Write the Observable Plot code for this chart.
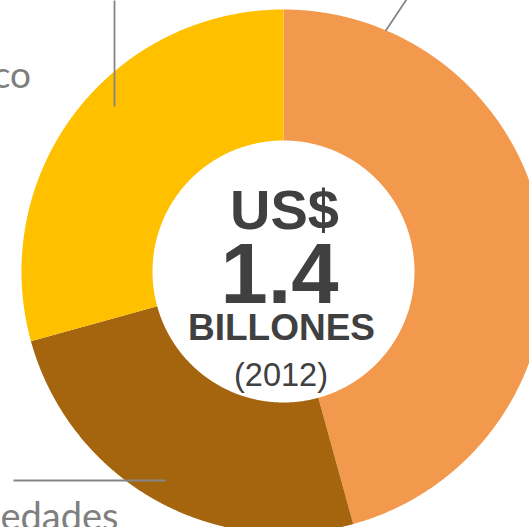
<!DOCTYPE html>
<html><head><meta charset="utf-8">
<script src="https://cdn.jsdelivr.net/npm/d3@7"></script>
<script src="https://cdn.jsdelivr.net/npm/@observablehq/plot@0.6"></script>
<style>html,body{margin:0;padding:0;background:#fff;overflow:hidden}svg{overflow:hidden}</style>
</head><body><div id="chart"></div>
<script>
// Data (US$ billones, 2012)
const categories = ["Segmento naranja", "…edades", "…co"];
const values = [0.64, 0.35, 0.41];
const colors = ["#F3994D", "#A5640E", "#FFC000"];
const centerLines = ["US$", "1.4", "BILLONES", "(2012)"];
const sideLabels = ["co", "edades"];

// geometry (pixels)
const W = 529, H = 527, CX = 283, CY = 271, R = 262;
const inner = 131 / R;
const ix = px => (px - CX) / R;
const iy = py => (CY - py) / R;

const pie = d3.pie().sort(null).value(d => d.value)(categories.map((c, i) => ({cat: c, value: values[i]})));
const pts = [];
for (const s of pie) {
  const n = Math.max(2, Math.ceil((s.endAngle - s.startAngle) / 0.005));
  for (let k = 0; k <= n; k++) {
    const a = s.startAngle + (s.endAngle - s.startAngle) * k / n;
    pts.push({cat: s.data.cat, x: Math.sin(a), y: Math.cos(a)});
  }
  for (let k = n; k >= 0; k--) {
    const a = s.startAngle + (s.endAngle - s.startAngle) * k / n;
    pts.push({cat: s.data.cat, x: inner * Math.sin(a), y: inner * Math.cos(a)});
  }
}

const bold = "'Liberation Sans', Arial, sans-serif";
const centerSpec = [
  {t: centerLines[0], x: ix(284), y: iy(228), fs: 56, fw: "bold"},
  {t: centerLines[1], x: ix(279), y: iy(302), fs: 85, fw: "bold"},
  {t: centerLines[2], x: ix(281), y: iy(339), fs: 37, fw: "bold"},
  {t: centerLines[3], x: ix(280.5), y: iy(385), fs: 32.5, fw: "normal"}
];

const leaders = [
  {x1: ix(114), y1: iy(0), x2: ix(114), y2: iy(106)},
  {x1: ix(13), y1: iy(480), x2: ix(165), y2: iy(480)},
  {x1: ix(406), y1: iy(-1), x2: ix(385), y2: iy(30.5)}
];

const labelFont = "Lato, 'Open Sans', sans-serif";
const chart = Plot.plot({
  width: W, height: H, margin: 0,
  x: {domain: [ix(0), ix(W)], axis: null},
  y: {domain: [iy(H), iy(0)], axis: null},
  color: {domain: categories, range: colors},
  style: {background: "#fff", overflow: "hidden"},
  marks: [
    Plot.line(pts, {x: "x", y: "y", z: "cat", fill: "cat", stroke: "none", curve: "linear-closed", clip: true}),
    Plot.link(leaders, {x1: "x1", y1: "y1", x2: "x2", y2: "y2", stroke: "#858585", strokeWidth: 1.8}),
    ...centerSpec.map(d => Plot.text([d], {x: "x", y: "y", text: "t", fontSize: d.fs, fontWeight: d.fw, fontFamily: bold, fill: "#404040", textAnchor: "middle", lineAnchor: "bottom"})),
    Plot.text([sideLabels[0]], {x: ix(30.5), y: iy(87.5), text: d => d, textAnchor: "end", lineAnchor: "bottom", fontSize: 37, fontWeight: 400, fontFamily: labelFont, fill: "#7F7F7F"}),
    Plot.text([sideLabels[1]], {x: ix(118), y: iy(529), text: d => d, textAnchor: "end", lineAnchor: "bottom", fontSize: 38, fontWeight: 400, fontFamily: labelFont, fill: "#7F7F7F"})
  ]
});
document.getElementById("chart").appendChild(chart);
</script></body></html>
